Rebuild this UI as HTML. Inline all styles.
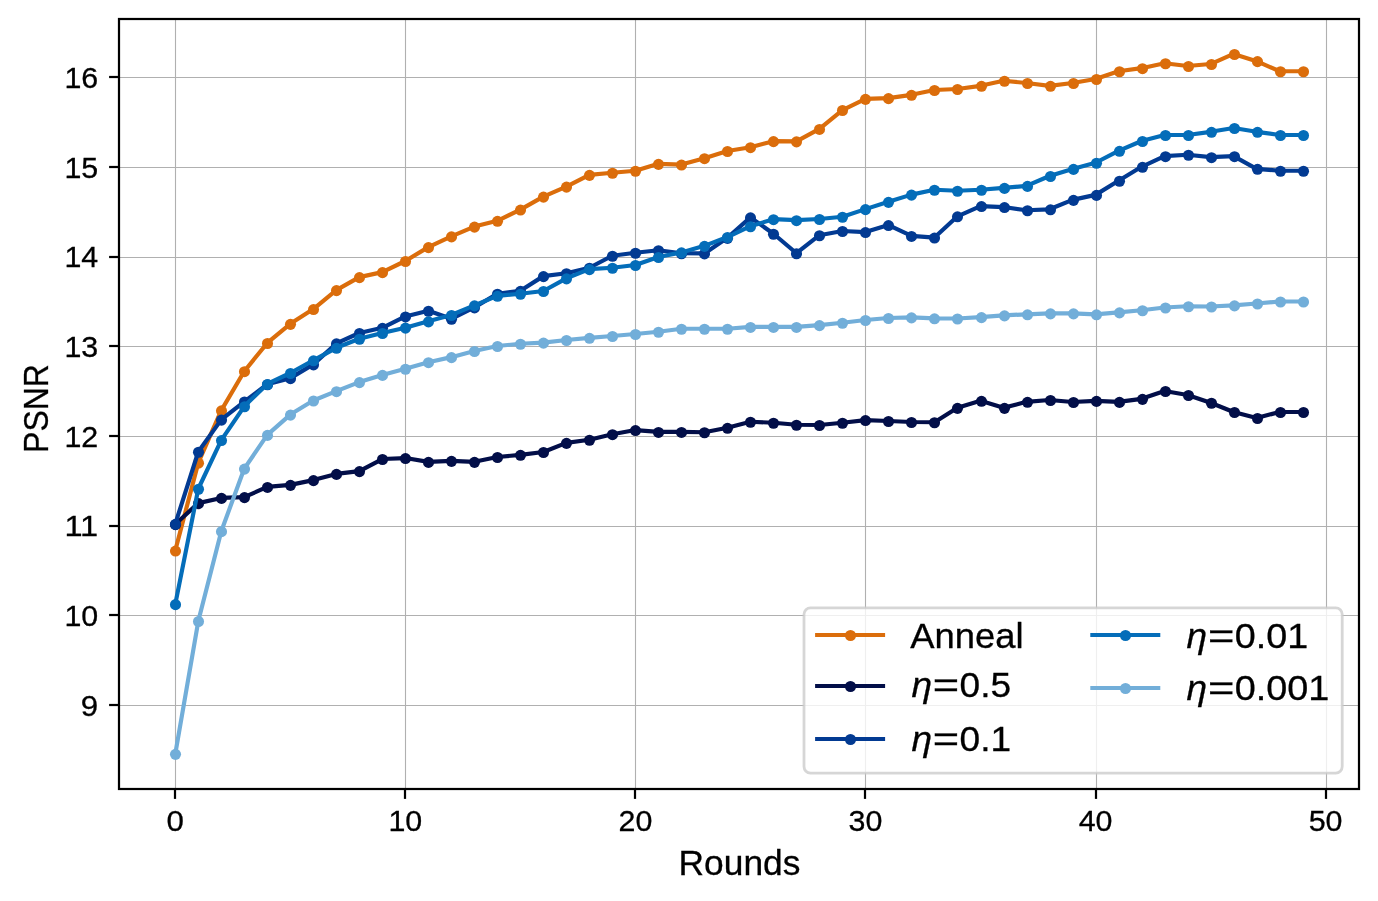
<!DOCTYPE html>
<html><head><meta charset="utf-8"><title>PSNR vs Rounds</title>
<style>html,body{margin:0;padding:0;background:#fff;}svg{display:block;will-change:transform;}text{font-family:"Liberation Sans",sans-serif;fill:#000;stroke:#000;stroke-width:0.3px;}</style>
</head><body>
<svg width="1378" height="901" viewBox="0 0 1378 901">
<rect x="0" y="0" width="1378" height="901" fill="#ffffff"/>
<g stroke="#b0b0b0" stroke-width="1.1" fill="none">
<line x1="175.50" y1="19.0" x2="175.50" y2="789.0"/>
<line x1="405.50" y1="19.0" x2="405.50" y2="789.0"/>
<line x1="635.50" y1="19.0" x2="635.50" y2="789.0"/>
<line x1="865.50" y1="19.0" x2="865.50" y2="789.0"/>
<line x1="1096.50" y1="19.0" x2="1096.50" y2="789.0"/>
<line x1="1326.50" y1="19.0" x2="1326.50" y2="789.0"/>
<line x1="119.0" y1="705.50" x2="1359.0" y2="705.50"/>
<line x1="119.0" y1="615.50" x2="1359.0" y2="615.50"/>
<line x1="119.0" y1="526.50" x2="1359.0" y2="526.50"/>
<line x1="119.0" y1="436.50" x2="1359.0" y2="436.50"/>
<line x1="119.0" y1="346.50" x2="1359.0" y2="346.50"/>
<line x1="119.0" y1="257.50" x2="1359.0" y2="257.50"/>
<line x1="119.0" y1="167.50" x2="1359.0" y2="167.50"/>
<line x1="119.0" y1="77.50" x2="1359.0" y2="77.50"/>
</g>
<g fill="#DB6D0B" stroke="none">
<polyline points="175.29,550.56 198.30,462.64 221.30,410.35 244.31,371.20 267.31,342.97 290.32,323.84 313.33,309.07 336.33,290.11 359.34,277.11 382.34,272.13 405.35,261.00 428.36,247.10 451.36,236.39 474.37,226.58 497.37,220.82 520.38,209.57 543.39,196.61 566.39,186.62 589.40,174.83 612.40,172.76 635.41,170.78 658.42,163.85 681.42,164.57 704.43,158.18 727.43,150.98 750.44,147.20 773.45,141.17 796.45,141.35 819.46,128.93 842.46,110.03 865.47,98.87 888.48,98.15 911.48,94.82 934.49,89.96 957.49,88.97 980.50,85.82 1003.51,80.78 1026.51,83.03 1049.52,85.82 1072.52,83.03 1095.53,78.98 1118.54,71.24 1141.54,68.18 1164.55,63.23 1187.55,66.02 1210.56,64.04 1233.57,53.96 1256.57,61.16 1279.58,71.24 1302.58,71.24" fill="none" stroke="#DB6D0B" stroke-width="4.17" stroke-linejoin="round" stroke-linecap="butt"/>
<circle cx="175.5" cy="551.06" r="5.55"/>
<circle cx="198.5" cy="463.14" r="5.55"/>
<circle cx="221.5" cy="410.85" r="5.55"/>
<circle cx="244.5" cy="371.70" r="5.55"/>
<circle cx="267.5" cy="343.47" r="5.55"/>
<circle cx="290.5" cy="324.34" r="5.55"/>
<circle cx="313.5" cy="309.57" r="5.55"/>
<circle cx="336.5" cy="290.61" r="5.55"/>
<circle cx="359.5" cy="277.61" r="5.55"/>
<circle cx="382.5" cy="272.63" r="5.55"/>
<circle cx="405.5" cy="261.50" r="5.55"/>
<circle cx="428.5" cy="247.60" r="5.55"/>
<circle cx="451.5" cy="236.89" r="5.55"/>
<circle cx="474.5" cy="227.08" r="5.55"/>
<circle cx="497.5" cy="221.32" r="5.55"/>
<circle cx="520.5" cy="210.07" r="5.55"/>
<circle cx="543.5" cy="197.11" r="5.55"/>
<circle cx="566.5" cy="187.12" r="5.55"/>
<circle cx="589.5" cy="175.33" r="5.55"/>
<circle cx="612.5" cy="173.26" r="5.55"/>
<circle cx="635.5" cy="171.28" r="5.55"/>
<circle cx="658.5" cy="164.35" r="5.55"/>
<circle cx="681.5" cy="165.07" r="5.55"/>
<circle cx="704.5" cy="158.68" r="5.55"/>
<circle cx="727.5" cy="151.48" r="5.55"/>
<circle cx="750.5" cy="147.70" r="5.55"/>
<circle cx="773.5" cy="141.67" r="5.55"/>
<circle cx="796.5" cy="141.85" r="5.55"/>
<circle cx="819.5" cy="129.43" r="5.55"/>
<circle cx="842.5" cy="110.53" r="5.55"/>
<circle cx="865.5" cy="99.37" r="5.55"/>
<circle cx="888.5" cy="98.65" r="5.55"/>
<circle cx="911.5" cy="95.32" r="5.55"/>
<circle cx="934.5" cy="90.46" r="5.55"/>
<circle cx="957.5" cy="89.47" r="5.55"/>
<circle cx="981.5" cy="86.32" r="5.55"/>
<circle cx="1004.5" cy="81.28" r="5.55"/>
<circle cx="1027.5" cy="83.53" r="5.55"/>
<circle cx="1050.5" cy="86.32" r="5.55"/>
<circle cx="1073.5" cy="83.53" r="5.55"/>
<circle cx="1096.5" cy="79.48" r="5.55"/>
<circle cx="1119.5" cy="71.74" r="5.55"/>
<circle cx="1142.5" cy="68.68" r="5.55"/>
<circle cx="1165.5" cy="63.73" r="5.55"/>
<circle cx="1188.5" cy="66.52" r="5.55"/>
<circle cx="1211.5" cy="64.54" r="5.55"/>
<circle cx="1234.5" cy="54.46" r="5.55"/>
<circle cx="1257.5" cy="61.66" r="5.55"/>
<circle cx="1280.5" cy="71.74" r="5.55"/>
<circle cx="1303.5" cy="71.74" r="5.55"/>
</g>
<g fill="#020E48" stroke="none">
<polyline points="175.29,524.20 198.30,503.14 221.30,497.92 244.31,497.11 267.31,486.94 290.32,484.87 313.33,480.10 336.33,473.89 359.34,471.10 382.34,459.04 405.35,458.05 428.36,461.92 451.36,460.84 474.37,461.83 497.37,456.97 520.38,454.81 543.39,452.02 566.39,442.84 589.40,439.78 612.40,434.20 635.41,430.06 658.42,431.95 681.42,431.95 704.43,432.22 727.43,427.81 750.44,421.78 773.45,422.77 796.45,424.75 819.46,425.02 842.46,422.77 865.47,420.07 888.48,420.97 911.48,421.96 934.49,422.23 957.49,407.83 980.50,400.81 1003.51,407.83 1026.51,401.80 1049.52,400.00 1072.52,401.98 1095.53,400.90 1118.54,401.89 1141.54,398.83 1164.55,391.00 1187.55,394.96 1210.56,402.79 1233.57,411.97 1256.57,418.00 1279.58,411.97 1302.58,411.97" fill="none" stroke="#020E48" stroke-width="4.17" stroke-linejoin="round" stroke-linecap="butt"/>
<circle cx="175.5" cy="524.70" r="5.55"/>
<circle cx="198.5" cy="503.64" r="5.55"/>
<circle cx="221.5" cy="498.42" r="5.55"/>
<circle cx="244.5" cy="497.61" r="5.55"/>
<circle cx="267.5" cy="487.44" r="5.55"/>
<circle cx="290.5" cy="485.37" r="5.55"/>
<circle cx="313.5" cy="480.60" r="5.55"/>
<circle cx="336.5" cy="474.39" r="5.55"/>
<circle cx="359.5" cy="471.60" r="5.55"/>
<circle cx="382.5" cy="459.54" r="5.55"/>
<circle cx="405.5" cy="458.55" r="5.55"/>
<circle cx="428.5" cy="462.42" r="5.55"/>
<circle cx="451.5" cy="461.34" r="5.55"/>
<circle cx="474.5" cy="462.33" r="5.55"/>
<circle cx="497.5" cy="457.47" r="5.55"/>
<circle cx="520.5" cy="455.31" r="5.55"/>
<circle cx="543.5" cy="452.52" r="5.55"/>
<circle cx="566.5" cy="443.34" r="5.55"/>
<circle cx="589.5" cy="440.28" r="5.55"/>
<circle cx="612.5" cy="434.70" r="5.55"/>
<circle cx="635.5" cy="430.56" r="5.55"/>
<circle cx="658.5" cy="432.45" r="5.55"/>
<circle cx="681.5" cy="432.45" r="5.55"/>
<circle cx="704.5" cy="432.72" r="5.55"/>
<circle cx="727.5" cy="428.31" r="5.55"/>
<circle cx="750.5" cy="422.28" r="5.55"/>
<circle cx="773.5" cy="423.27" r="5.55"/>
<circle cx="796.5" cy="425.25" r="5.55"/>
<circle cx="819.5" cy="425.52" r="5.55"/>
<circle cx="842.5" cy="423.27" r="5.55"/>
<circle cx="865.5" cy="420.57" r="5.55"/>
<circle cx="888.5" cy="421.47" r="5.55"/>
<circle cx="911.5" cy="422.46" r="5.55"/>
<circle cx="934.5" cy="422.73" r="5.55"/>
<circle cx="957.5" cy="408.33" r="5.55"/>
<circle cx="981.5" cy="401.31" r="5.55"/>
<circle cx="1004.5" cy="408.33" r="5.55"/>
<circle cx="1027.5" cy="402.30" r="5.55"/>
<circle cx="1050.5" cy="400.50" r="5.55"/>
<circle cx="1073.5" cy="402.48" r="5.55"/>
<circle cx="1096.5" cy="401.40" r="5.55"/>
<circle cx="1119.5" cy="402.39" r="5.55"/>
<circle cx="1142.5" cy="399.33" r="5.55"/>
<circle cx="1165.5" cy="391.50" r="5.55"/>
<circle cx="1188.5" cy="395.46" r="5.55"/>
<circle cx="1211.5" cy="403.29" r="5.55"/>
<circle cx="1234.5" cy="412.47" r="5.55"/>
<circle cx="1257.5" cy="418.50" r="5.55"/>
<circle cx="1280.5" cy="412.47" r="5.55"/>
<circle cx="1303.5" cy="412.47" r="5.55"/>
</g>
<g fill="#023A92" stroke="none">
<polyline points="175.29,523.84 198.30,451.75 221.30,419.62 244.31,401.53 267.31,384.25 290.32,378.13 313.33,364.36 336.33,343.42 359.34,333.01 382.34,327.84 405.35,316.45 428.36,310.76 451.36,318.77 474.37,307.37 497.37,293.76 520.38,290.82 543.39,276.13 566.39,273.20 589.40,267.77 612.40,255.74 635.41,252.77 658.42,250.25 681.42,253.22 704.43,253.40 727.43,237.83 750.44,217.40 773.45,233.78 796.45,253.22 819.46,235.22 842.46,230.99 865.47,232.07 888.48,225.05 911.48,235.94 934.49,237.56 957.49,216.32 980.50,206.06 1003.51,207.05 1026.51,210.29 1049.52,209.30 1072.52,199.85 1095.53,194.90 1118.54,180.77 1141.54,166.82 1164.55,156.20 1187.55,154.76 1210.56,157.19 1233.57,156.20 1256.57,168.80 1279.58,170.78 1302.58,170.78" fill="none" stroke="#023A92" stroke-width="4.17" stroke-linejoin="round" stroke-linecap="butt"/>
<circle cx="175.5" cy="524.34" r="5.55"/>
<circle cx="198.5" cy="452.25" r="5.55"/>
<circle cx="221.5" cy="420.12" r="5.55"/>
<circle cx="244.5" cy="402.03" r="5.55"/>
<circle cx="267.5" cy="384.75" r="5.55"/>
<circle cx="290.5" cy="378.63" r="5.55"/>
<circle cx="313.5" cy="364.86" r="5.55"/>
<circle cx="336.5" cy="343.92" r="5.55"/>
<circle cx="359.5" cy="333.51" r="5.55"/>
<circle cx="382.5" cy="328.34" r="5.55"/>
<circle cx="405.5" cy="316.95" r="5.55"/>
<circle cx="428.5" cy="311.26" r="5.55"/>
<circle cx="451.5" cy="319.27" r="5.55"/>
<circle cx="474.5" cy="307.87" r="5.55"/>
<circle cx="497.5" cy="294.26" r="5.55"/>
<circle cx="520.5" cy="291.32" r="5.55"/>
<circle cx="543.5" cy="276.63" r="5.55"/>
<circle cx="566.5" cy="273.70" r="5.55"/>
<circle cx="589.5" cy="268.27" r="5.55"/>
<circle cx="612.5" cy="256.24" r="5.55"/>
<circle cx="635.5" cy="253.27" r="5.55"/>
<circle cx="658.5" cy="250.75" r="5.55"/>
<circle cx="681.5" cy="253.72" r="5.55"/>
<circle cx="704.5" cy="253.90" r="5.55"/>
<circle cx="727.5" cy="238.33" r="5.55"/>
<circle cx="750.5" cy="217.90" r="5.55"/>
<circle cx="773.5" cy="234.28" r="5.55"/>
<circle cx="796.5" cy="253.72" r="5.55"/>
<circle cx="819.5" cy="235.72" r="5.55"/>
<circle cx="842.5" cy="231.49" r="5.55"/>
<circle cx="865.5" cy="232.57" r="5.55"/>
<circle cx="888.5" cy="225.55" r="5.55"/>
<circle cx="911.5" cy="236.44" r="5.55"/>
<circle cx="934.5" cy="238.06" r="5.55"/>
<circle cx="957.5" cy="216.82" r="5.55"/>
<circle cx="981.5" cy="206.56" r="5.55"/>
<circle cx="1004.5" cy="207.55" r="5.55"/>
<circle cx="1027.5" cy="210.79" r="5.55"/>
<circle cx="1050.5" cy="209.80" r="5.55"/>
<circle cx="1073.5" cy="200.35" r="5.55"/>
<circle cx="1096.5" cy="195.40" r="5.55"/>
<circle cx="1119.5" cy="181.27" r="5.55"/>
<circle cx="1142.5" cy="167.32" r="5.55"/>
<circle cx="1165.5" cy="156.70" r="5.55"/>
<circle cx="1188.5" cy="155.26" r="5.55"/>
<circle cx="1211.5" cy="157.69" r="5.55"/>
<circle cx="1234.5" cy="156.70" r="5.55"/>
<circle cx="1257.5" cy="169.30" r="5.55"/>
<circle cx="1280.5" cy="171.28" r="5.55"/>
<circle cx="1303.5" cy="171.28" r="5.55"/>
</g>
<g fill="#046DB9" stroke="none">
<polyline points="175.29,604.14 198.30,488.74 221.30,440.05 244.31,406.30 267.31,383.98 290.32,373.00 313.33,360.31 336.33,347.80 359.34,338.79 382.34,333.01 405.35,327.67 428.36,321.35 451.36,315.03 474.37,305.42 497.37,295.80 520.38,293.76 543.39,291.00 566.39,278.36 589.40,269.10 612.40,267.77 635.41,265.01 658.42,257.00 681.42,252.41 704.43,245.84 727.43,237.02 750.44,226.22 773.45,219.20 796.45,220.19 819.46,219.02 842.46,216.77 865.47,209.12 888.48,201.83 911.48,194.63 934.49,189.77 957.49,190.76 980.50,189.77 1003.51,187.88 1026.51,185.90 1049.52,176.00 1072.52,168.89 1095.53,162.77 1118.54,150.80 1141.54,140.99 1164.55,134.96 1187.55,134.96 1210.56,131.81 1233.57,128.03 1256.57,131.81 1279.58,134.96 1302.58,134.96" fill="none" stroke="#046DB9" stroke-width="4.17" stroke-linejoin="round" stroke-linecap="butt"/>
<circle cx="175.5" cy="604.64" r="5.55"/>
<circle cx="198.5" cy="489.24" r="5.55"/>
<circle cx="221.5" cy="440.55" r="5.55"/>
<circle cx="244.5" cy="406.80" r="5.55"/>
<circle cx="267.5" cy="384.48" r="5.55"/>
<circle cx="290.5" cy="373.50" r="5.55"/>
<circle cx="313.5" cy="360.81" r="5.55"/>
<circle cx="336.5" cy="348.30" r="5.55"/>
<circle cx="359.5" cy="339.29" r="5.55"/>
<circle cx="382.5" cy="333.51" r="5.55"/>
<circle cx="405.5" cy="328.17" r="5.55"/>
<circle cx="428.5" cy="321.85" r="5.55"/>
<circle cx="451.5" cy="315.53" r="5.55"/>
<circle cx="474.5" cy="305.92" r="5.55"/>
<circle cx="497.5" cy="296.30" r="5.55"/>
<circle cx="520.5" cy="294.26" r="5.55"/>
<circle cx="543.5" cy="291.50" r="5.55"/>
<circle cx="566.5" cy="278.86" r="5.55"/>
<circle cx="589.5" cy="269.60" r="5.55"/>
<circle cx="612.5" cy="268.27" r="5.55"/>
<circle cx="635.5" cy="265.51" r="5.55"/>
<circle cx="658.5" cy="257.50" r="5.55"/>
<circle cx="681.5" cy="252.91" r="5.55"/>
<circle cx="704.5" cy="246.34" r="5.55"/>
<circle cx="727.5" cy="237.52" r="5.55"/>
<circle cx="750.5" cy="226.72" r="5.55"/>
<circle cx="773.5" cy="219.70" r="5.55"/>
<circle cx="796.5" cy="220.69" r="5.55"/>
<circle cx="819.5" cy="219.52" r="5.55"/>
<circle cx="842.5" cy="217.27" r="5.55"/>
<circle cx="865.5" cy="209.62" r="5.55"/>
<circle cx="888.5" cy="202.33" r="5.55"/>
<circle cx="911.5" cy="195.13" r="5.55"/>
<circle cx="934.5" cy="190.27" r="5.55"/>
<circle cx="957.5" cy="191.26" r="5.55"/>
<circle cx="981.5" cy="190.27" r="5.55"/>
<circle cx="1004.5" cy="188.38" r="5.55"/>
<circle cx="1027.5" cy="186.40" r="5.55"/>
<circle cx="1050.5" cy="176.50" r="5.55"/>
<circle cx="1073.5" cy="169.39" r="5.55"/>
<circle cx="1096.5" cy="163.27" r="5.55"/>
<circle cx="1119.5" cy="151.30" r="5.55"/>
<circle cx="1142.5" cy="141.49" r="5.55"/>
<circle cx="1165.5" cy="135.46" r="5.55"/>
<circle cx="1188.5" cy="135.46" r="5.55"/>
<circle cx="1211.5" cy="132.31" r="5.55"/>
<circle cx="1234.5" cy="128.53" r="5.55"/>
<circle cx="1257.5" cy="132.31" r="5.55"/>
<circle cx="1280.5" cy="135.46" r="5.55"/>
<circle cx="1303.5" cy="135.46" r="5.55"/>
</g>
<g fill="#72AED9" stroke="none">
<polyline points="175.29,753.87 198.30,621.03 221.30,531.16 244.31,468.58 267.31,434.92 290.32,414.58 313.33,400.54 336.33,391.18 359.34,382.09 382.34,374.89 405.35,368.77 428.36,362.20 451.36,357.16 474.37,351.04 497.37,346.00 520.38,343.77 543.39,342.62 566.39,340.04 589.40,337.81 612.40,336.03 635.41,333.99 658.42,331.76 681.42,328.73 704.43,328.73 727.43,328.73 750.44,326.95 773.45,326.95 796.45,326.95 819.46,325.17 842.46,322.77 865.47,320.01 888.48,317.97 911.48,317.34 934.49,318.32 957.49,318.50 980.50,317.16 1003.51,315.38 1026.51,314.32 1049.52,313.34 1072.52,313.34 1095.53,314.32 1118.54,312.36 1141.54,310.22 1164.55,307.46 1187.55,306.22 1210.56,306.48 1233.57,305.42 1256.57,303.46 1279.58,301.50 1302.58,301.50" fill="none" stroke="#72AED9" stroke-width="4.17" stroke-linejoin="round" stroke-linecap="butt"/>
<circle cx="175.5" cy="754.37" r="5.55"/>
<circle cx="198.5" cy="621.53" r="5.55"/>
<circle cx="221.5" cy="531.66" r="5.55"/>
<circle cx="244.5" cy="469.08" r="5.55"/>
<circle cx="267.5" cy="435.42" r="5.55"/>
<circle cx="290.5" cy="415.08" r="5.55"/>
<circle cx="313.5" cy="401.04" r="5.55"/>
<circle cx="336.5" cy="391.68" r="5.55"/>
<circle cx="359.5" cy="382.59" r="5.55"/>
<circle cx="382.5" cy="375.39" r="5.55"/>
<circle cx="405.5" cy="369.27" r="5.55"/>
<circle cx="428.5" cy="362.70" r="5.55"/>
<circle cx="451.5" cy="357.66" r="5.55"/>
<circle cx="474.5" cy="351.54" r="5.55"/>
<circle cx="497.5" cy="346.50" r="5.55"/>
<circle cx="520.5" cy="344.27" r="5.55"/>
<circle cx="543.5" cy="343.12" r="5.55"/>
<circle cx="566.5" cy="340.54" r="5.55"/>
<circle cx="589.5" cy="338.31" r="5.55"/>
<circle cx="612.5" cy="336.53" r="5.55"/>
<circle cx="635.5" cy="334.49" r="5.55"/>
<circle cx="658.5" cy="332.26" r="5.55"/>
<circle cx="681.5" cy="329.23" r="5.55"/>
<circle cx="704.5" cy="329.23" r="5.55"/>
<circle cx="727.5" cy="329.23" r="5.55"/>
<circle cx="750.5" cy="327.45" r="5.55"/>
<circle cx="773.5" cy="327.45" r="5.55"/>
<circle cx="796.5" cy="327.45" r="5.55"/>
<circle cx="819.5" cy="325.67" r="5.55"/>
<circle cx="842.5" cy="323.27" r="5.55"/>
<circle cx="865.5" cy="320.51" r="5.55"/>
<circle cx="888.5" cy="318.47" r="5.55"/>
<circle cx="911.5" cy="317.84" r="5.55"/>
<circle cx="934.5" cy="318.82" r="5.55"/>
<circle cx="957.5" cy="319.00" r="5.55"/>
<circle cx="981.5" cy="317.66" r="5.55"/>
<circle cx="1004.5" cy="315.88" r="5.55"/>
<circle cx="1027.5" cy="314.82" r="5.55"/>
<circle cx="1050.5" cy="313.84" r="5.55"/>
<circle cx="1073.5" cy="313.84" r="5.55"/>
<circle cx="1096.5" cy="314.82" r="5.55"/>
<circle cx="1119.5" cy="312.86" r="5.55"/>
<circle cx="1142.5" cy="310.72" r="5.55"/>
<circle cx="1165.5" cy="307.96" r="5.55"/>
<circle cx="1188.5" cy="306.72" r="5.55"/>
<circle cx="1211.5" cy="306.98" r="5.55"/>
<circle cx="1234.5" cy="305.92" r="5.55"/>
<circle cx="1257.5" cy="303.96" r="5.55"/>
<circle cx="1280.5" cy="302.00" r="5.55"/>
<circle cx="1303.5" cy="302.00" r="5.55"/>
</g>
<g stroke="#000" stroke-width="2.22" fill="none">
<line x1="175.00" y1="789.0" x2="175.00" y2="798.90"/>
<line x1="405.00" y1="789.0" x2="405.00" y2="798.90"/>
<line x1="635.00" y1="789.0" x2="635.00" y2="798.90"/>
<line x1="865.00" y1="789.0" x2="865.00" y2="798.90"/>
<line x1="1096.00" y1="789.0" x2="1096.00" y2="798.90"/>
<line x1="1326.00" y1="789.0" x2="1326.00" y2="798.90"/>
<line x1="109.10" y1="705.00" x2="119.0" y2="705.00"/>
<line x1="109.10" y1="615.00" x2="119.0" y2="615.00"/>
<line x1="109.10" y1="526.00" x2="119.0" y2="526.00"/>
<line x1="109.10" y1="436.00" x2="119.0" y2="436.00"/>
<line x1="109.10" y1="346.00" x2="119.0" y2="346.00"/>
<line x1="109.10" y1="257.00" x2="119.0" y2="257.00"/>
<line x1="109.10" y1="167.00" x2="119.0" y2="167.00"/>
<line x1="109.10" y1="77.00" x2="119.0" y2="77.00"/>
</g>
<rect x="119.0" y="19.0" width="1240.0" height="770.0" fill="none" stroke="#000" stroke-width="2.22"/>
<g font-size="30.4px">
<text x="175.29" y="831.2" text-anchor="middle" textLength="17.4" lengthAdjust="spacingAndGlyphs">0</text>
<text x="405.35" y="831.2" text-anchor="middle" textLength="33.8" lengthAdjust="spacingAndGlyphs">10</text>
<text x="635.41" y="831.2" text-anchor="middle" textLength="33.8" lengthAdjust="spacingAndGlyphs">20</text>
<text x="865.47" y="831.2" text-anchor="middle" textLength="33.8" lengthAdjust="spacingAndGlyphs">30</text>
<text x="1095.53" y="831.2" text-anchor="middle" textLength="33.8" lengthAdjust="spacingAndGlyphs">40</text>
<text x="1325.59" y="831.2" text-anchor="middle" textLength="33.8" lengthAdjust="spacingAndGlyphs">50</text>
<text x="98.2" y="715.80" text-anchor="end" textLength="17.4" lengthAdjust="spacingAndGlyphs">9</text>
<text x="98.2" y="626.08" text-anchor="end" textLength="33.8" lengthAdjust="spacingAndGlyphs">10</text>
<text x="98.2" y="536.37" text-anchor="end" textLength="33.8" lengthAdjust="spacingAndGlyphs">11</text>
<text x="98.2" y="446.66" text-anchor="end" textLength="33.8" lengthAdjust="spacingAndGlyphs">12</text>
<text x="98.2" y="356.94" text-anchor="end" textLength="33.8" lengthAdjust="spacingAndGlyphs">13</text>
<text x="98.2" y="267.23" text-anchor="end" textLength="33.8" lengthAdjust="spacingAndGlyphs">14</text>
<text x="98.2" y="177.51" text-anchor="end" textLength="33.8" lengthAdjust="spacingAndGlyphs">15</text>
<text x="98.2" y="87.80" text-anchor="end" textLength="33.8" lengthAdjust="spacingAndGlyphs">16</text>
</g>
<text x="739.5" y="875.3" font-size="35px" text-anchor="middle" textLength="121.8" lengthAdjust="spacingAndGlyphs">Rounds</text>
<text transform="translate(48.3,408.5) rotate(-90)" font-size="35px" text-anchor="middle" textLength="88.8" lengthAdjust="spacingAndGlyphs">PSNR</text>
<rect x="804" y="607.8" width="538.2" height="165.3" rx="6.5" ry="6.5" fill="#ffffff" fill-opacity="0.8" stroke="#cccccc" stroke-opacity="0.8" stroke-width="2.78"/>
<line x1="815.10" y1="635.0" x2="885.10" y2="635.0" stroke="#DB6D0B" stroke-width="4.17"/>
<circle cx="850.5" cy="635.5" r="5.55" fill="#DB6D0B"/>
<line x1="815.10" y1="686.0" x2="885.10" y2="686.0" stroke="#020E48" stroke-width="4.17"/>
<circle cx="850.5" cy="686.5" r="5.55" fill="#020E48"/>
<line x1="815.10" y1="739.0" x2="885.10" y2="739.0" stroke="#023A92" stroke-width="4.17"/>
<circle cx="850.5" cy="739.5" r="5.55" fill="#023A92"/>
<line x1="1090.30" y1="635.0" x2="1160.30" y2="635.0" stroke="#046DB9" stroke-width="4.17"/>
<circle cx="1125.5" cy="635.5" r="5.55" fill="#046DB9"/>
<line x1="1090.30" y1="688.0" x2="1160.30" y2="688.0" stroke="#72AED9" stroke-width="4.17"/>
<circle cx="1125.5" cy="688.5" r="5.55" fill="#72AED9"/>
<text x="910.3" y="647.9" font-size="35.0px" textLength="113.2" lengthAdjust="spacingAndGlyphs">Anneal</text>
<text x="911.40" y="697.2" font-size="35.0px" font-style="italic" textLength="20.6" lengthAdjust="spacingAndGlyphs">η</text>
<text x="932.70" y="697.2" font-size="35.0px" textLength="26.4" lengthAdjust="spacingAndGlyphs">=</text>
<text x="959.60" y="697.2" font-size="35.0px" textLength="51.50" lengthAdjust="spacingAndGlyphs">0.5</text>
<text x="911.40" y="751.1" font-size="35.0px" font-style="italic" textLength="20.6" lengthAdjust="spacingAndGlyphs">η</text>
<text x="932.70" y="751.1" font-size="35.0px" textLength="26.4" lengthAdjust="spacingAndGlyphs">=</text>
<text x="959.60" y="751.1" font-size="35.0px" textLength="51.50" lengthAdjust="spacingAndGlyphs">0.1</text>
<text x="1186.60" y="648.1" font-size="35.0px" font-style="italic" textLength="20.6" lengthAdjust="spacingAndGlyphs">η</text>
<text x="1207.90" y="648.1" font-size="35.0px" textLength="26.4" lengthAdjust="spacingAndGlyphs">=</text>
<text x="1234.80" y="648.1" font-size="35.0px" textLength="73.40" lengthAdjust="spacingAndGlyphs">0.01</text>
<text x="1186.60" y="700.0" font-size="35.0px" font-style="italic" textLength="20.6" lengthAdjust="spacingAndGlyphs">η</text>
<text x="1207.90" y="700.0" font-size="35.0px" textLength="26.4" lengthAdjust="spacingAndGlyphs">=</text>
<text x="1234.80" y="700.0" font-size="35.0px" textLength="94.60" lengthAdjust="spacingAndGlyphs">0.001</text>
</svg></body></html>
